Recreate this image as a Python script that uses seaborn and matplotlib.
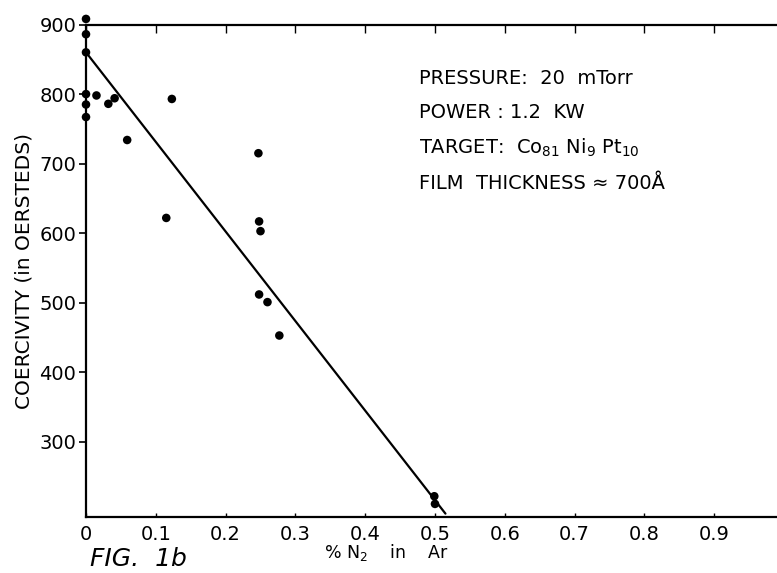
import numpy as np
import pandas as pd
import matplotlib
matplotlib.use("Agg")
import matplotlib.pyplot as plt
import seaborn as sns

sns.set_style("ticks")
plt.rcParams['font.family'] = ['DejaVu Sans']
plt.rcParams['mathtext.fontset'] = 'dejavusans'
plt.rcParams['text.color'] = 'black'
plt.rcParams['axes.labelcolor'] = 'black'
plt.rcParams['xtick.color'] = 'black'
plt.rcParams['ytick.color'] = 'black'
plt.rcParams['axes.edgecolor'] = 'black'

# данные
n2_pct = [0.0, 0.0, 0.0, 0.0, 0.015, 0.0, 0.0, 0.032, 0.041, 0.123, 0.059,
          0.115, 0.247, 0.248, 0.250, 0.248, 0.260, 0.277, 0.499, 0.500]
coercivity = [908, 886, 860, 800, 798, 785, 767, 786, 794, 793, 734,
              622, 715, 617, 603, 512, 501, 453, 222, 211]

# прямая, проведённая от руки на оригинале
fit_x = [0.0, 0.515]
fit_y = [860, 197]

x_ticks = [0, 0.1, 0.2, 0.3, 0.4, 0.5, 0.6, 0.7, 0.8, 0.9]
x_tick_labels = ['0', '0.1', '0.2', '0.3', '0.4', '0.5', '0.6', '0.7', '0.8', '0.9']
y_ticks = [300, 400, 500, 600, 700, 800, 900]

notes = ['PRESSURE:  20  mTorr',
         'POWER : 1.2  KW',
         r'TARGET:  Co$_{81}$ Ni$_{9}$ Pt$_{10}$',
         'FILM  THICKNESS \u2248 700\u00c5']

df = pd.DataFrame({'x': n2_pct, 'y': coercivity})
df_fit = pd.DataFrame({'x': fit_x, 'y': fit_y})

fig = plt.figure(figsize=(7.77, 5.73), dpi=100)
ax = fig.add_axes([86 / 777, 1 - 516.7 / 573, 1 - 86 / 777, (516.7 - 24.5) / 573])

sns.lineplot(data=df_fit, x='x', y='y', color='black', linewidth=1.6, ax=ax,
             clip_on=False)
sns.scatterplot(data=df, x='x', y='y', color='black', s=38, edgecolor='none',
                ax=ax, clip_on=False, zorder=5)

ax.set_xlim(0, 0.99)
ax.set_ylim(192.6, 900)
ax.set_xticks(x_ticks)
ax.set_xticklabels(x_tick_labels)
ax.set_yticks(y_ticks)

for s in ['left', 'bottom', 'top']:
    ax.spines[s].set_visible(True)
    ax.spines[s].set_linewidth(1.6)
ax.spines['right'].set_visible(False)

ax.tick_params(axis='y', direction='out', length=5, width=1.2, labelsize=14, pad=2)
ax.tick_params(axis='x', direction='in', length=3, width=1.0, labelsize=14, pad=6,
               top=True)
for t in ax.xaxis.get_major_ticks():
    t.tick2line.set_marker(3)  # верхние засечки наружу
    t.tick2line.set_markersize(6)

ax.set_xlabel(r'% N$_2$    in    Ar', fontsize=12.5)
ax.xaxis.set_label_coords((386 - 86) / 691, -0.052)
ax.set_ylabel('COERCIVITY (in OERSTEDS)', fontsize=14.5, labelpad=4)

for i, line in enumerate(notes):
    fig.text(419 / 777, 1 - (78 + i * 35) / 573, line, fontsize=14, va='center')

fig.text(90 / 777, 2 / 573, 'FIG.  1b', fontsize=18, style='italic',
         va='bottom', ha='left')

fig.savefig('out.png', dpi=100)
